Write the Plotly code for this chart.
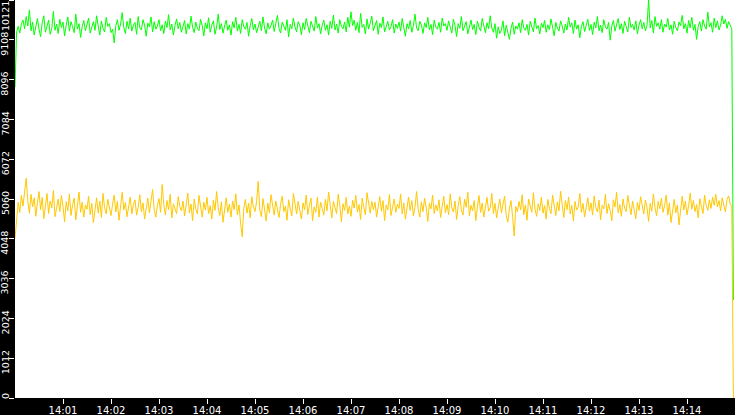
# plot.py - two noisy series on a white plot, black frame

import pandas as pd
import plotly.graph_objects as go

#
# DATA (one value every 2 s from 14:00:00)
#

green_values = [
    7900, 9310, 9450, 9280, 9520, 9610, 9390, 9700, 9460, 9870, 9340, 9560, 9230, 9480, 9650,
    9380, 9190, 9540, 9720, 9300, 9460, 9610, 9250, 9400, 9830, 9350, 9510, 9270, 9630, 9420,
    9560, 9210, 9480, 9690, 9330, 9570, 9440, 9290, 9760, 9380, 9520, 9170, 9450, 9600, 9340,
    9490, 9660, 9280, 9410, 9570, 9350, 9720, 9460, 9230, 9590, 9400, 9310, 9680, 9450, 9520,
    9290, 9380, 9030, 9470, 9620, 9350, 9510, 9800, 9420, 9270, 9580, 9390, 9660, 9330, 9480,
    9550, 9250, 9700, 9410, 9360, 9620, 9480, 9200, 9530, 9440, 9690, 9310, 9570, 9380, 9460,
    9620, 9340, 9490, 9270, 9580, 9420, 9750, 9360, 9510, 9230, 9470, 9640, 9390, 9550, 9300,
    9450, 9600, 9260, 9520, 9380, 9710, 9430, 9290, 9560, 9400, 9340, 9630, 9470, 9210, 9540,
    9390, 9670, 9300, 9480, 9590, 9250, 9430, 9760, 9370, 9520, 9280, 9460, 9610, 9350, 9490,
    9230, 9570, 9410, 9680, 9330, 9500, 9270, 9620, 9440, 9380, 9550, 9200, 9470, 9650, 9360,
    9510, 9290, 9430, 9580, 9340, 9690, 9410, 9260, 9540, 9380, 9470, 9610, 9320, 9490, 9730,
    9400, 9280, 9560, 9450, 9350, 9620, 9180, 9500, 9390, 9660, 9430, 9310, 9570, 9480, 9240,
    9540, 9370, 9650, 9420, 9290, 9580, 9460, 9330, 9700, 9410, 9520, 9260, 9480, 9610, 9350,
    9490, 9230, 9580, 9400, 9740, 9360, 9510, 9280, 9620, 9450, 9390, 9560, 9310, 9680, 9430,
    9820, 9470, 9610, 9350, 9550, 9290, 9780, 9420, 9500, 9260, 9640, 9380, 9530, 9710, 9340,
    9480, 9600, 9250, 9530, 9420, 9690, 9310, 9470, 9580, 9360, 9440, 9620, 9280, 9510, 9400,
    9560, 9330, 9650, 9450, 9200, 9520, 9390, 9600, 9300, 9470, 9760, 9410, 9340, 9580, 9490,
    9270, 9540, 9420, 9680, 9360, 9500, 9240, 9610, 9430, 9380, 9550, 9300, 9660, 9460, 9520,
    9350, 9590, 9410, 9280, 9630, 9470, 9190, 9520, 9400, 9700, 9340, 9480, 9570, 9260, 9450,
    9610, 9370, 9500, 9240, 9580, 9430, 9330, 9650, 9460, 9290, 9540, 9390, 9720, 9410, 9300,
    9520, 9150, 9440, 9270, 9360, 9590, 9210, 9480, 9330, 9120, 9400, 9560, 9250, 9460, 9380,
    9540, 9290, 9620, 9410, 9350, 9500, 9230, 9580, 9440, 9310, 9660, 9390, 9470, 9260, 9530,
    9420, 9600, 9300, 9490, 9370, 9640, 9450, 9210, 9550, 9400, 9330, 9590, 9460, 9280, 9510,
    9360, 9680, 9430, 9540, 9270, 9610, 9380, 9490, 9160, 9450, 9570, 9320, 9470, 9630, 9350,
    9500, 9240, 9560, 9410, 9700, 9340, 9480, 9290, 9620, 9430, 9380, 9550, 9100, 9460, 9600,
    9330, 9490, 9650, 9370, 9520, 9270, 9580, 9440, 9310, 9680, 9420, 9500, 9360, 9590, 9260,
    9480, 9620, 9390, 9550, 9340, 9470, 10121, 9410, 9600, 9280, 9700, 9450, 9540, 9380, 9620,
    9300, 9510, 9430, 9650, 9360, 9490, 9250, 9580, 9420, 9340, 9560, 9470, 9730, 9390, 9520,
    9280, 9600, 9410, 9680, 9350, 9500, 9120, 9450, 9570, 9330, 9620, 9460, 9380, 9810, 9440,
    9540, 9300, 9660, 9420, 9590, 9360, 9480, 9720, 9510, 9630, 9400, 9570, 9480, 9390, 2490,
]

yellow_values = [
    4060, 4650, 4980, 4720, 5150, 4880, 5260, 5590, 5020, 4700, 5180, 4860, 5090, 4620, 4950,
    5250, 4790, 5100, 4560, 4880, 5200, 4690, 5010, 4830, 5280, 4610, 4900, 5060, 4740, 5150,
    4870, 4480, 4990, 4760, 5190, 4640, 4920, 5080, 4530, 4850, 5240, 4720, 4980, 4600, 4910,
    4800, 5130, 4660, 4950, 4460, 4870, 5090, 4700, 5010, 4590, 5200, 4840, 4680, 5050, 4790,
    4640, 4930, 5160, 4730, 5000, 4520, 4860, 5230, 4780, 4970, 4610, 4890, 5110, 4680, 4920,
    5040, 4650, 4850, 5170, 4740, 4960, 4550, 4830, 5080, 4710, 4990, 5300, 4800, 4600, 4900,
    5070, 4720, 5430, 4910, 4660, 5020, 4790, 5180, 4580, 4940, 4820, 4690, 5120, 4870, 4760,
    5010, 4630, 4880, 5210, 4710, 4930, 4510, 5060, 4800, 4680, 5150, 4900, 4600, 4980, 4780,
    5100, 4690, 4890, 4550, 5030, 4770, 5250, 4840, 4640, 4990, 4470, 4870, 5090, 4720, 4930,
    4600, 5010, 4790, 5190, 4660, 4910, 4450, 4100, 4820, 5050, 4700, 4950, 4580, 5120, 4860,
    4740, 4990, 5510, 4780, 4610, 5070, 4830, 4500, 4960, 4710, 5170, 4870, 4650, 5010, 4800,
    4590, 4930, 5130, 4740, 4880, 4520, 5040, 4810, 4630, 5200, 4900, 4680, 5000, 4770, 4550,
    4960, 4790, 5160, 4660, 4900, 5080, 4510, 4860, 4720, 5110, 4600, 4980, 4820, 4650, 5050,
    4760, 5240, 4850, 4580, 5000, 4800, 4690, 5180, 4910, 4480, 4940, 4770, 5100, 4680, 4880,
    4620, 5030, 4830, 5150, 4730, 4920, 4540, 5080, 4840, 4660, 5220, 4890, 4700, 5000, 4790,
    4980, 4600, 4860, 5120, 4750, 5020, 4510, 4910, 4780, 5170, 4640, 4870, 5060, 4720, 4930,
    4820, 5190, 4680, 4960, 4550, 4890, 5110, 4770, 5020, 4630, 4860, 5250, 4800, 4600, 4990,
    4740, 5080, 4850, 4490, 4950, 4810, 5160, 4690, 4910, 4760, 5040, 4590, 4880, 5130, 4710,
    4920, 4660, 5190, 4840, 4730, 5010, 4540, 4880, 5120, 4780, 4650, 5060, 4850, 5230, 4640,
    4900, 4760, 5020, 4510, 4860, 5150, 4720, 4960, 4600, 4880, 5100, 4750, 4830, 5200, 4690,
    4950, 4580, 4830, 5060, 4710, 4890, 5130, 4650, 4470, 4810, 5020, 4610, 4120, 4870, 4740,
    5000, 4780, 5170, 4660, 4910, 4520, 5060, 4840, 4720, 5220, 4800, 4620, 4940, 4770, 5110,
    4700, 4890, 4550, 5050, 4820, 4690, 5160, 4910, 4640, 4990, 4760, 5260, 4860, 4590, 5020,
    4790, 5110, 4680, 4900, 4500, 5000, 4780, 4850, 5200, 4720, 4950, 4600, 4880, 5090, 4750,
    4960, 4650, 5140, 4840, 4730, 5030, 4530, 4900, 4810, 5180, 4690, 4940, 4770, 4510, 5040,
    4860, 5230, 4710, 4920, 4620, 5060, 4830, 4740, 5150, 4890, 4660, 5010, 4800, 4560, 4970,
    4770, 5120, 4880, 4680, 5030, 4840, 4490, 4950, 4750, 5190, 4850, 4630, 5000, 4810, 5080,
    4720, 4890, 5160, 4650, 4960, 4460, 4830, 5050, 4710, 4910, 4400, 4870, 5130, 4780, 5010,
    4660, 4880, 5210, 4800, 5020, 4740, 4920, 4580, 5070, 4840, 4690, 5160, 4890, 4770, 5040,
    4820, 5110, 4900, 5180, 4860, 5020, 4760, 5090, 4910, 4730, 5050, 5140, 4930, 4880, 0,
]

times = pd.date_range("2024-01-01 14:00:00", periods=len(green_values), freq="2s")

y_ticks = [0, 1012, 2024, 3036, 4048, 5060, 6072, 7084, 8096, 9108, 10121]
x_tick_labels = ["14:01", "14:02", "14:03", "14:04", "14:05", "14:06", "14:07",
                 "14:08", "14:09", "14:10", "14:11", "14:12", "14:13", "14:14"]
x_ticks = [pd.Timestamp("2024-01-01 " + t + ":00") for t in x_tick_labels]

#
# CHART
#

fig = go.Figure()
fig.add_trace(go.Scatter(x=times, y=green_values, mode="lines",
                         line=dict(color="#00ff00", width=1)))
fig.add_trace(go.Scatter(x=times, y=yellow_values, mode="lines",
                         line=dict(color="#ffc800", width=1)))

# y labels sit in the thin black strip, rotated
for v in y_ticks:
    anchor, shift = "middle", -4
    if v == y_ticks[-1]:
        anchor, shift = "top", 0
    if v == 0:
        anchor, shift = "bottom", -2
    fig.add_annotation(x=0, xref="paper", y=v, yref="y", text=str(v),
                       showarrow=False, textangle=-90, xanchor="center",
                       yanchor=anchor, xshift=-10, yshift=shift, borderpad=0,
                       font=dict(family="DejaVu Sans", size=9.5, color="white"))

fig.update_layout(
    width=735, height=415,
    margin=dict(l=15, r=0, t=0, b=17, pad=0, autoexpand=False),
    paper_bgcolor="black", plot_bgcolor="white",
    showlegend=False,
    xaxis=dict(range=[pd.Timestamp("2024-01-01 14:00:00"), pd.Timestamp("2024-01-01 14:15:00")],
               tickvals=x_ticks, ticktext=x_tick_labels,
               ticks="outside", ticklen=5, tickcolor="white", tickwidth=1,
               ticklabelstandoff=-2,
               tickfont=dict(family="DejaVu Sans", size=10, color="white"),
               showgrid=False, zeroline=False, showline=False),
    yaxis=dict(range=[0, 10121], tickvals=y_ticks, showticklabels=False,
               ticks="outside", ticklen=5, tickcolor="white", tickwidth=1,
               showgrid=False, zeroline=False, showline=False),
)

# page margin off so the figure starts at the window's corner
fig.write_html("out.html", config={"displayModeBar": False},
               post_script="document.body.style.margin='0';")
